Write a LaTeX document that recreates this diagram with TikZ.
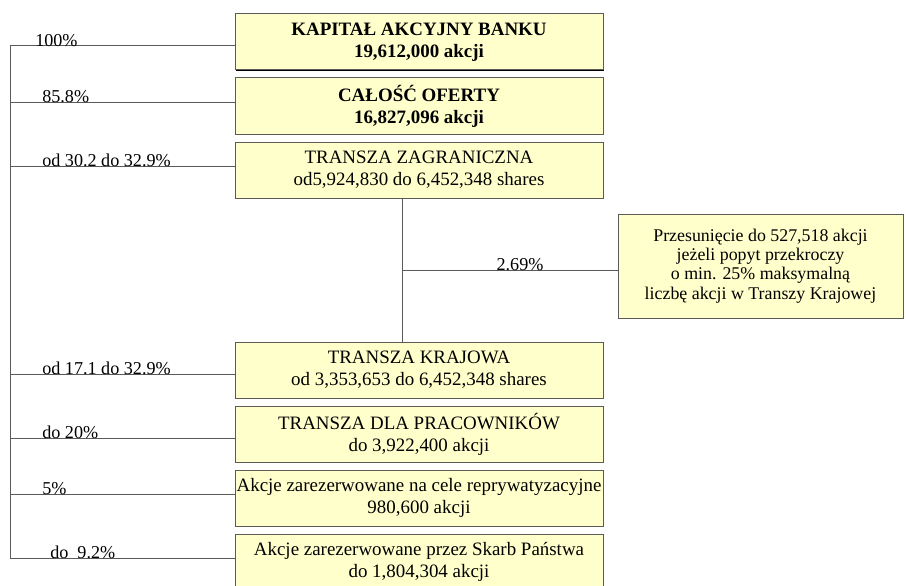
\documentclass[tikz,border=0pt]{standalone}
\usepackage{fontspec}
\setmainfont{Liberation Serif}
\usepackage{xcolor}
\usetikzlibrary{positioning,shadows,calc}
\definecolor{boxfill}{HTML}{FFFFCC}
\definecolor{linegray}{HTML}{5A5A5A}
\tikzset{
  tranche/.style={draw=linegray,line width=0.75pt,fill=boxfill,align=center,
    minimum width=276pt,minimum height=42pt,inner sep=1pt,outer sep=0pt,
    font=\fontsize{14.2}{16.5}\selectfont,
    drop shadow={shadow xshift=0.8pt,shadow yshift=-0.8pt,fill=black,opacity=1}},
  conn/.style={draw=linegray,line width=0.75pt},
  pct/.style={anchor=base west,inner sep=0pt,font=\fontsize{13.6}{15}\selectfont}
}
\begin{document}
\begin{tikzpicture}[x=0.75pt,y=-0.75pt]
\useasboundingbox (0,0) rectangle (906,585);
% boxes
\node [tranche] (kap) at (419,42) {\textbf{KAPITAŁ AKCYJNY BANKU}\\\textbf{19,612,000 akcji}};
\node [tranche,below=6pt of kap] (cal) {\textbf{CAŁOŚĆ OFERTY}\\\textbf{16,827,096 akcji}};
\node [tranche,below=6pt of cal] (zag) {TRANSZA ZAGRANICZNA\\od5,924,830 do 6,452,348 shares};
\node [tranche] (kra) at (419,370) {TRANSZA KRAJOWA\\od 3,353,653 do 6,452,348 shares};
\node [tranche,below=6pt of kra] (pra) {TRANSZA DLA PRACOWNIKÓW\\do 3,922,400 akcji};
\node [tranche,below=6pt of pra] (rep) {Akcje zarezerwowane na cele reprywatyzacyjne\\980,600 akcji};
\node [tranche,below=6pt of rep] (skarb) {Akcje zarezerwowane przez Skarb Państwa\\do 1,804,304 akcji};
\node [tranche,minimum width=213.75pt,minimum height=78pt,
  font=\fontsize{13.4}{14.4}\selectfont] (prz) at (760.5,266)
  {Przesunięcie do 527,518 akcji\\jeżeli popyt przekroczy\\o min. 25\% maksymalną\\liczbę akcji w Transzy Krajowej};
% left spine
\coordinate (sp) at (10,0);
\draw [conn] ($(sp |- kap.west)+(0,4)$) -- ($(sp |- skarb.west)+(0,-4)$);
\foreach \n/\dy in {kap/4,cal/-4,zag/-4,kra/4,pra/4,rep/-4,skarb/-4}
  \draw [conn] ($(sp |- \n.west)+(0,\dy)$) -- ($(\n.west)+(0,\dy)$);
% shift between tranches
\coordinate (mid) at (402,270);
\draw [conn] (zag.south -| mid) -- (kra.north -| mid);
\draw [conn] (mid) -- (mid -| prz.west);
% percentages
\node [pct] (p1) at (35,46.5) {100\%};
\node [pct] (p2) at (42,102.5) {85.8\%};
\node [pct] (p3) at (42,166.5) {od 30.2 do 32.9\%};
\node [pct] (p4) at (42,374.5) {od 17.1 do 32.9\%};
\node [pct] (p5) at (42,438.5) {do 20\%};
\node [pct] (p6) at (42,494.5) {5\%};
\node [pct] (p7) at (50,558.5) {do \ 9.2\%};
\node [pct,anchor=base] (p8) at (520,270.5) {2.69\%};
\end{tikzpicture}
\end{document}
